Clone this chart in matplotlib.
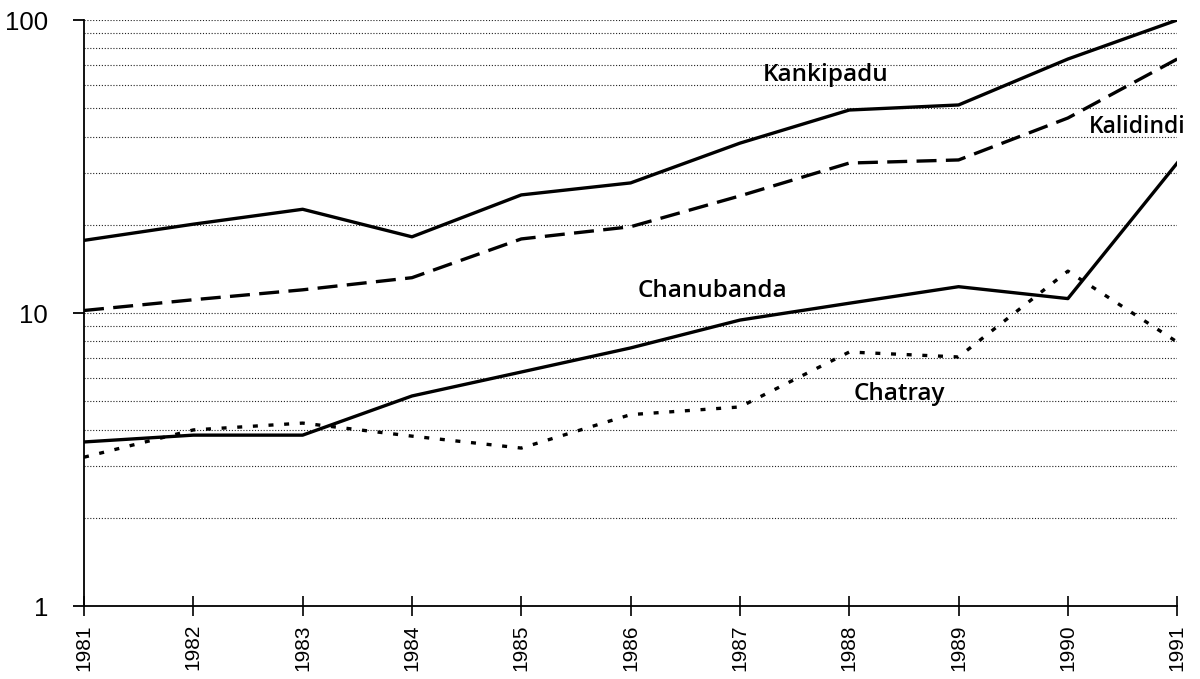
import matplotlib.pyplot as plt
from matplotlib.ticker import FixedLocator, LogLocator, NullFormatter

# yearly index values per village (log scale)
years = [1981, 1982, 1983, 1984, 1985, 1986, 1987, 1988, 1989, 1990, 1991]
kankipadu = [17.7, 20.1, 22.6, 18.2, 25.3, 27.8, 38.0, 49.3, 51.3, 73.6, 100.0]
kalidindi = [10.2, 11.1, 12.0, 13.2, 17.9, 19.7, 25.1, 32.5, 33.3, 46.3, 73.6]
chanubanda = [3.63, 3.83, 3.83, 5.21, 6.29, 7.6, 9.46, 10.8, 12.3, 11.2, 32.5]
chatray = [3.22, 3.99, 4.21, 3.80, 3.46, 4.5, 4.78, 7.36, 7.08, 13.9, 7.96]

label_font = ["Open Sans", "DejaVu Sans"]
axis_font = ["Liberation Sans", "DejaVu Sans"]

fig = plt.figure(figsize=(12, 6.79), dpi=100)
ax = fig.add_axes([0.07, 0.1075, 0.911, 0.863])

ax.set_yscale("log")
ax.set_ylim(1, 100)
ax.set_xlim(1981, 1991)

# dotted gridlines at every major and minor log tick
ax.yaxis.set_minor_locator(LogLocator(base=10, subs=range(2, 10)))
ax.yaxis.set_minor_formatter(NullFormatter())
ax.grid(True, which="both", axis="y", linestyle=(0, (1, 1.6)), color="#222222", linewidth=0.8)
ax.grid(False, axis="x")

ax.plot(years, kankipadu, color="black", linewidth=2.4)
ax.plot(years, kalidindi, color="black", linewidth=2.4, linestyle=(0, (6, 2.8)))
ax.plot(years, chanubanda, color="black", linewidth=2.4)
ax.plot(years, chatray, color="black", linewidth=2.4, linestyle=(0, (1.5, 3.2)))

names = {"Kankipadu": (1987.21, 61.9, 17.5), "Kalidindi": (1990.19, 41.1, 16.5),
         "Chanubanda": (1986.06, 11.35, 17.5), "Chatray": (1988.04, 5.05, 17.5)}
for name, (x, y, size) in names.items():
    ax.text(x, y, name, fontsize=size, fontweight="semibold", family=label_font,
            va="baseline", ha="left")

for side in ["top", "right"]:
    ax.spines[side].set_visible(False)
ax.spines["left"].set_linewidth(1.3)
ax.spines["bottom"].set_linewidth(1.3)

ax.yaxis.set_major_locator(FixedLocator([1, 10, 100]))
ax.set_yticklabels(["1", "10", "100"], fontsize=18.5, family=axis_font)
ax.tick_params(axis="y", which="major", direction="out", length=8, width=1.3, pad=18)
ax.tick_params(axis="y", which="minor", length=0)

ax.set_xticks(years)
ax.set_xticklabels([str(y) for y in years], rotation=90, fontsize=15, family=axis_font)
ax.tick_params(axis="x", direction="inout", length=14, width=1.2, pad=6)

fig.savefig("out.png", dpi=100, facecolor="white")
